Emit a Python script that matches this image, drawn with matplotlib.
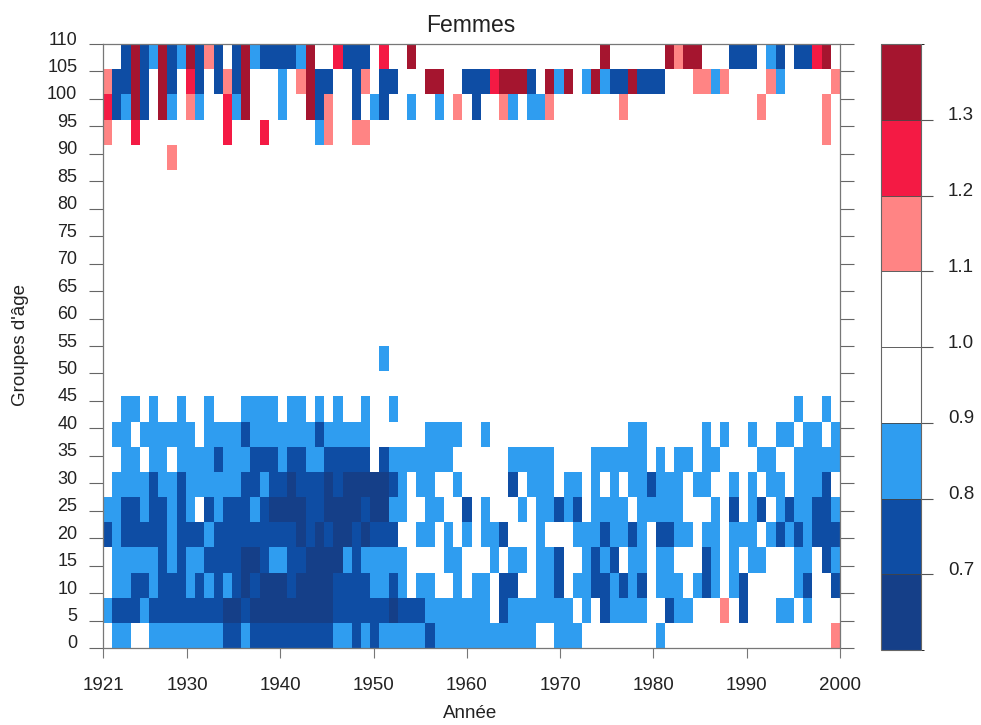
import numpy as np
import matplotlib
matplotlib.use("Agg")
import matplotlib.pyplot as plt
from matplotlib.colors import ListedColormap, BoundaryNorm
from matplotlib.transforms import ScaledTranslation

plt.rcParams['font.family'] = ['Liberation Sans', 'DejaVu Sans']

title = "Femmes"
xlabel = "Année"
ylabel = "Groupes d'âge"
x_ticks = [1921, 1930, 1940, 1950, 1960, 1970, 1980, 1990, 2000]
y_ticks = list(range(0, 115, 5))
cbar_ticks = [0.7, 0.8, 0.9, 1.0, 1.1, 1.2, 1.3]
levels = [0.6, 0.7, 0.8, 0.9, 1.0, 1.1, 1.2, 1.3, 1.4]
band_colors = ['#153F88', '#0E4DA4', '#2F9DF0', '#FFFFFF', '#FFFFFF', '#FF8484', '#F41A44', '#A5152F']

# ratio class per cell: c=0.65 b=0.75 a=0.85 .=0.95 p=1.15 r=1.25 d=1.35
ratio_of = {'c': 0.65, 'b': 0.75, 'a': 0.85, '.': 0.95, 'p': 1.15, 'r': 1.25, 'd': 1.35}
D = ".........."
# listed from the top row (oldest) to the bottom row (age 0), 8 groups of 10 years
rows_top_down = [
    ["..bdbadbad", "bpb.bdabbb", "bad..rbbb.", "r..d......", D, "....d.....", ".dpdd...bb", "b.ab.bbrd."],
    ["pbbdb.db.r", "b.bpbd...a", ".pdbb..bp.", "bb...dd..b", "bbrdddb.da", "d.adabbdbb", "b...ppap..", "..pa.....p"],
    ["rbadb.da.p", "a..rad...a", "..dbp..b.a", "b..a..a.p.", "b..pa.aap.", "......p...", D, ".p......p."],
    ["p..r......", "...r...r..", "...ap..pp.", D, D, D, D, "........p."],
    [".......p..", D, D, D, D, D, D, D],
    [D, D, D, D, D, D, D, D],
    [D, D, D, D, D, D, D, D],
    [D, D, D, D, D, D, D, D],
    [D, D, D, D, D, D, D, D],
    [D, D, D, D, D, D, D, D],
    [D, D, D, D, D, D, D, D],
    [D, D, D, D, D, D, D, D],
    [D, D, D, "a.........", D, D, D, D],
    [D, D, D, D, D, D, D, D],
    ["..aa.a..a.", ".a...aaaa.", "aa.a.a..a.", ".a........", D, D, D, ".....a..a."],
    [".aa.aaaaaa", ".aaaabaaaa", "aaabaaaaa.", ".....aaaa.", ".a........", ".......aa.", ".....a.a..", "a..aa.aa.a"],
    ["..aa.aa.aa", "aabaaabbba", "bbaabbbbb.", "baaaaaaa..", "....aaaaa.", "...aaaaaa.", "a.aa.aa...", ".aa..aaaaa"],
    [".aaaabaaba", "aaaaabbabb", "cbbbcbcccc", "cba.aa..a.", "....b.aaa.", "aa.a.a.aab", "aaa.aa..a.", "a.aa.aaab."],
    ["aabbabbaba", ".babbbabcc", "ccbbccccbc", "caa..aa..b", ".a...a.aab", "ab.aaaa.aa", "aaa...a.b.", "ab.abaabba"],
    ["babbbbbabb", "babbbbbbbb", "bcbcbccbcb", "bb..aa.a.a", ".aab...a..", ".aaabaaba.", "bbaa.aa.aa", "a.abababbb"],
    [".aaaaababa", "abbbbccbaa", "bbccccabaa", "aaa....aa.", "..a.aa.aab", "..abab.aa.", "aa...ba.a.", "aa...aa.ba"],
    [".aabbabbba", "bababcbccc", "bccccbbbba", "aba.aa..a.", "aa.bb..aab", ".aabbabab.", "aaa.aba.ab", ".....ab..b"],
    ["abbbabbbbb", "bbbccbcccc", "cccccbbbbb", "bcbbbaaaaa", "aa.baaaaaa", "a.a.baaaa.", ".baa...p.b", "...aa.a..."],
    [".aa..aaaaa", "aaabbabbbb", "bbbbbaabab", "aaaaabaaaa", "aaaaaaa..a", "aa........", "a.........", ".........p"],
]

grid = np.array([[ratio_of[ch] for ch in "".join(r)] for r in rows_top_down])[::-1]
x_edges = np.linspace(1921, 2000, grid.shape[1] + 1)
y_edges = np.linspace(0, 110, grid.shape[0] + 1)

W, H = 981, 725
fig = plt.figure(figsize=(W / 100, H / 100), dpi=100)
ax = fig.add_axes([103 / W, 1 - 648 / H, 737 / W, 604 / H])
cax = fig.add_axes([881 / W, 1 - 650 / H, 40 / W, 606 / H])

cmap = ListedColormap(band_colors)
norm = BoundaryNorm(levels, cmap.N)
mesh = ax.pcolormesh(x_edges, y_edges, grid, cmap=cmap, norm=norm)

ax.set_xlim(1921, 2000)
ax.set_ylim(0, 110)
ax.set_xticks(x_ticks)
ax.set_yticks(y_ticks)
ax.tick_params(axis='x', length=7, width=0.8, color='#777777', labelsize=13.5, pad=14, labelcolor='#222222')
ax.tick_params(axis='y', length=10, width=0.8, color='#666666', labelsize=13, pad=8.5,
               labelcolor='#222222', left=True, right=True)
for s in ax.spines.values():
    s.set_color('#777777')
    s.set_linewidth(0.9)
up6 = ScaledTranslation(0, 6 / 100, fig.dpi_scale_trans)
for lab in ax.get_yticklabels():
    lab.set_transform(lab.get_transform() + up6)

fig.text(471 / W, 1 - 25 / H, title, ha='center', va='center', fontsize=16.5, color='#222222')
fig.text(470 / W, 1 - 713 / H, xlabel, ha='center', va='center', fontsize=13.5, color='#222222')
fig.text(21 / W, 1 - 345 / H, ylabel, ha='center', va='center', rotation=90, fontsize=13.5, color='#222222')

cb = fig.colorbar(mesh, cax=cax, ticks=cbar_ticks, drawedges=True)
cb.dividers.set_color('#444444')
cb.dividers.set_linewidth(0.6)
cb.outline.set_edgecolor('#666666')
cb.outline.set_linewidth(0.8)
cb.ax.set_yticklabels([f"{t:.1f}" for t in cbar_ticks])
cb.ax.tick_params(length=8.5, width=0.8, color='#555555', labelsize=13.5, pad=11, labelcolor='#222222')
for lab in cb.ax.get_yticklabels():
    lab.set_transform(lab.get_transform() + up6)

fig.savefig("out.png", dpi=100)
